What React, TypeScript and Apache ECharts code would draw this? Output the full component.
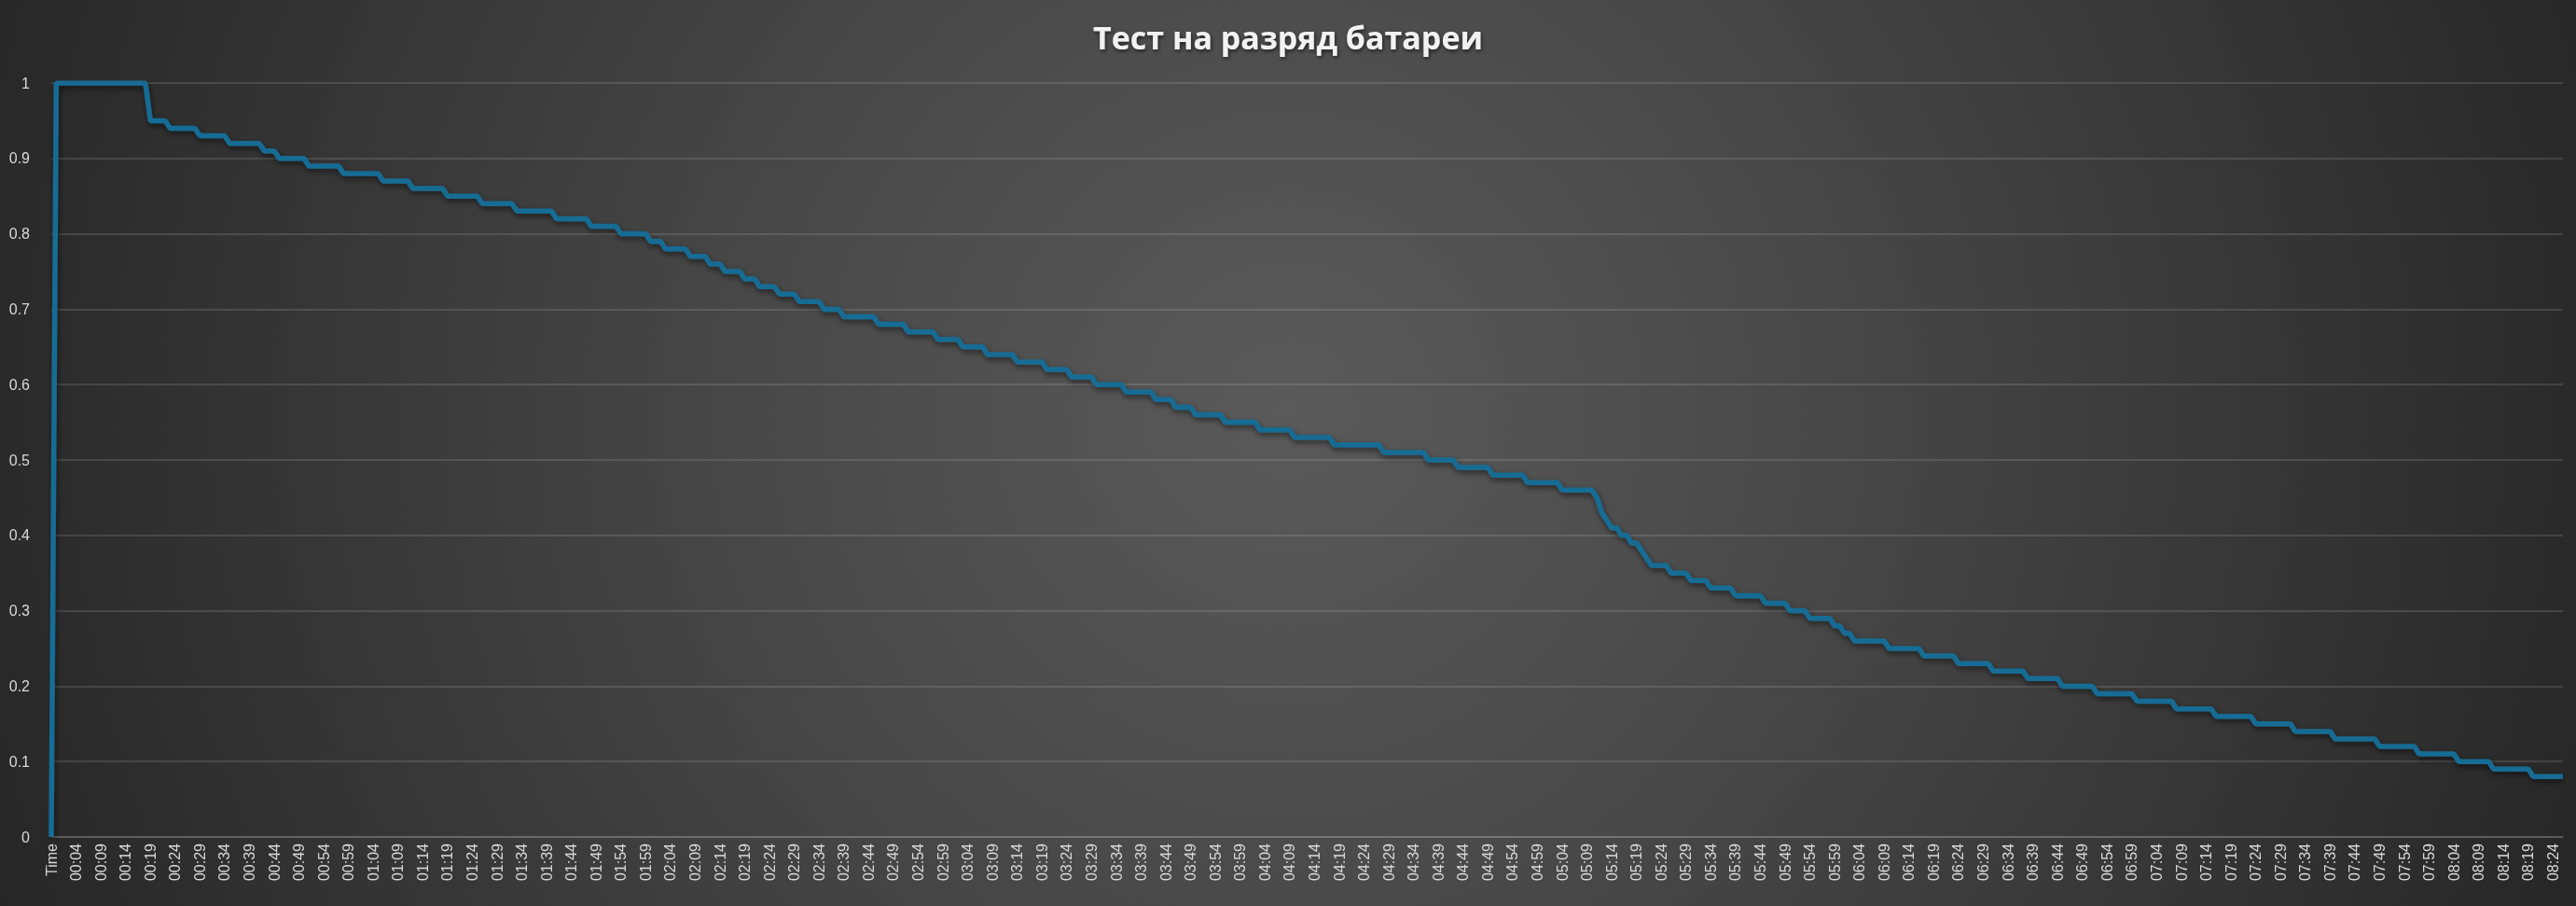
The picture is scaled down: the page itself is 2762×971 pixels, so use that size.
import React, { useEffect, useRef } from "react";
import * as echarts from "echarts";

const TITLE = "Тест на разряд батареи";
const FIRST_CATEGORY = "Time";
const FIRST_VALUE = 0;
const START_MINUTE = 0; // 00:00
const MINUTE_COUNT = 507; // 00:00 .. 08:26

// Battery level steps: level and how many one-minute samples stay at it
const LEVELS = [
  1.0, 0.95, 0.94, 0.93, 0.92, 0.91, 0.9, 0.89, 0.88, 0.87, 0.86, 0.85, 0.84, 0.83, 0.82, 0.81,
  0.8, 0.79, 0.78, 0.77, 0.76, 0.75, 0.74, 0.73, 0.72, 0.71, 0.7, 0.69, 0.68, 0.67, 0.66, 0.65,
  0.64, 0.63, 0.62, 0.61, 0.6, 0.59, 0.58, 0.57, 0.56, 0.55, 0.54, 0.53, 0.52, 0.51, 0.5, 0.49,
  0.48, 0.47, 0.46, 0.45, 0.43, 0.42, 0.41, 0.4, 0.39, 0.38, 0.37, 0.36, 0.35, 0.34, 0.33, 0.32,
  0.31, 0.3, 0.29, 0.28, 0.27, 0.26, 0.25, 0.24, 0.23, 0.22, 0.21, 0.2, 0.19, 0.18, 0.17, 0.16,
  0.15, 0.14, 0.13, 0.12, 0.11, 0.1, 0.09, 0.08,
];
const COUNTS = [
  19, 4, 6, 6, 7, 3, 6, 7, 8, 6, 7, 7, 7, 8, 7, 6,
  6, 3, 5, 4, 3, 4, 3, 4, 4, 5, 4, 7, 6, 6, 5, 5,
  6, 6, 5, 5, 6, 6, 4, 4, 6, 7, 7, 8, 10, 9, 6, 7,
  7, 7, 7, 1, 1, 1, 2, 2, 2, 1, 1, 4, 4, 4, 5, 6,
  5, 4, 5, 2, 2, 7, 7, 7, 7, 7, 7, 7, 8, 8, 8, 8,
  8, 8, 9, 8, 8, 7, 8, 7,
];

const Y_MIN = 0;
const Y_MAX = 1;
const Y_STEP = 0.1;

function hhmm(m: number): string {
  const h = Math.floor(m / 60);
  const mm = m % 60;
  return String(h).padStart(2, "0") + ":" + String(mm).padStart(2, "0");
}

export default function App() {
  const ref = useRef<HTMLDivElement>(null);

  useEffect(() => {
    if (!ref.current) return;
    const chart = echarts.init(ref.current, null, { renderer: "svg" });

    const categories: string[] = [FIRST_CATEGORY];
    for (let i = 0; i < MINUTE_COUNT; i++) categories.push(hhmm(START_MINUTE + i));
    const values: number[] = [FIRST_VALUE];
    LEVELS.forEach((lv, k) => {
      for (let j = 0; j < COUNTS[k]; j++) values.push(lv);
    });

    const labelColor = "#d9d9d9";
    const font = "'Liberation Sans', Arial, sans-serif";

    chart.setOption({
      animation: false,
      backgroundColor: "transparent",
      title: {
        text: TITLE,
        left: "center",
        top: 18,
        textStyle: {
          color: "#f2f2f2",
          fontSize: 34,
          fontWeight: "bold",
          fontFamily: "'Open Sans', Roboto, sans-serif",
          textShadowColor: "rgba(0,0,0,0.6)",
          textShadowBlur: 4,
          textShadowOffsetX: 1,
          textShadowOffsetY: 2,
        },
      },
      grid: { left: 55, right: 14, top: 89, bottom: 74, containLabel: false },
      xAxis: {
        type: "category",
        data: categories,
        boundaryGap: false,
        axisLine: { show: true, lineStyle: { color: "rgba(255,255,255,0.18)", width: 1.5 } },
        axisTick: { show: false },
        axisLabel: {
          interval: 4,
          rotate: 90,
          margin: 7,
          color: labelColor,
          fontSize: 16,
          fontFamily: font,
        },
        splitLine: { show: false },
      },
      yAxis: {
        type: "value",
        min: Y_MIN,
        max: Y_MAX,
        interval: Y_STEP,
        axisLine: { show: false },
        axisTick: { show: false },
        axisLabel: {
          color: labelColor,
          fontSize: 16,
          fontFamily: font,
          margin: 23,
          formatter: (v: number) => String(+v.toFixed(1)),
        },
        splitLine: { lineStyle: { color: "rgba(255,255,255,0.17)", width: 1.5 } },
      },
      series: [
        {
          type: "line",
          data: values,
          symbol: "none",
          lineStyle: {
            color: "#176c94",
            width: 5.5,
            shadowColor: "rgba(0,0,0,0.55)",
            shadowBlur: 6,
            shadowOffsetX: 1,
            shadowOffsetY: 3,
          },
        },
      ],
    });

    return () => chart.dispose();
  }, []);

  return (
    <div
      ref={ref}
      style={{
        position: "fixed",
        left: 0,
        top: 0,
        width: 2762,
        height: 971,
        background:
          "radial-gradient(circle farthest-corner at 50% 45%, #5a5a5a 0%, #4a4a4a 35%, #262626 100%)",
      }}
    />
  );
}
